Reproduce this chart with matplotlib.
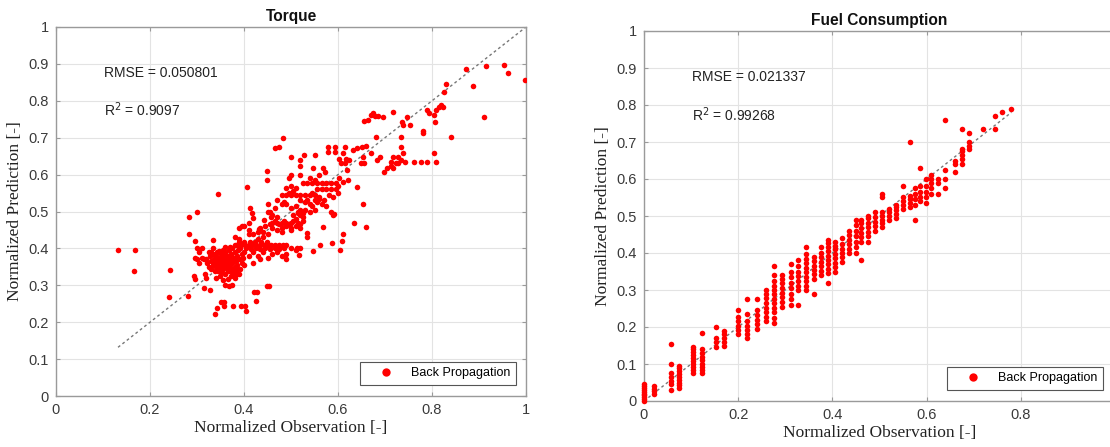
import matplotlib
matplotlib.use("Agg")
import matplotlib.pyplot as plt
from matplotlib.ticker import FuncFormatter

# ---------------- data ----------------
torque_points = [
    # outliers low-left
    (0.132, 0.396), (0.168, 0.396), (0.166, 0.338), (0.242, 0.342), (0.240, 0.268),
    (0.280, 0.270), (0.282, 0.440), (0.282, 0.484), (0.301, 0.500), (0.345, 0.547),
    (0.296, 0.419), (0.293, 0.326), (0.296, 0.317), (0.314, 0.293), (0.328, 0.286),
    (0.333, 0.423), (0.339, 0.221), (0.343, 0.239), (0.352, 0.255), (0.357, 0.255),
    (0.357, 0.243), (0.377, 0.243), (0.393, 0.243), (0.402, 0.243), (0.404, 0.230),
    (0.421, 0.281), (0.428, 0.281), (0.425, 0.257), (0.448, 0.299), (0.454, 0.299),
    (0.406, 0.566),
    # dense cluster
    (0.320, 0.370), (0.322, 0.360), (0.325, 0.350), (0.328, 0.380), (0.330, 0.345),
    (0.330, 0.365), (0.333, 0.385), (0.335, 0.355), (0.337, 0.370), (0.338, 0.340),
    (0.340, 0.360), (0.340, 0.380), (0.342, 0.350), (0.343, 0.390), (0.345, 0.365),
    (0.345, 0.375), (0.347, 0.345), (0.348, 0.355), (0.350, 0.335), (0.350, 0.370),
    (0.350, 0.385), (0.352, 0.360), (0.353, 0.380), (0.355, 0.345), (0.355, 0.395),
    (0.357, 0.365), (0.358, 0.355), (0.360, 0.330), (0.360, 0.375), (0.360, 0.390),
    (0.362, 0.350), (0.363, 0.365), (0.365, 0.340), (0.365, 0.380), (0.367, 0.360),
    (0.368, 0.395), (0.370, 0.350), (0.370, 0.370), (0.372, 0.385), (0.373, 0.340),
    (0.375, 0.360), (0.375, 0.400), (0.377, 0.330), (0.378, 0.375), (0.380, 0.350),
    (0.380, 0.390), (0.382, 0.365), (0.383, 0.340), (0.385, 0.380), (0.386, 0.355),
    (0.388, 0.395), (0.390, 0.370), (0.390, 0.330), (0.392, 0.345), (0.395, 0.385),
    (0.396, 0.360), (0.398, 0.375), (0.400, 0.390), (0.340, 0.320), (0.348, 0.325),
    (0.355, 0.315), (0.365, 0.318), (0.372, 0.325), (0.380, 0.320), (0.385, 0.330),
    (0.360, 0.300), (0.368, 0.298), (0.375, 0.302), (0.330, 0.390), (0.335, 0.400),
    (0.325, 0.390), (0.370, 0.405), (0.360, 0.405), (0.380, 0.410), (0.315, 0.370),
    (0.310, 0.375), (0.300, 0.400), (0.305, 0.390), (0.310, 0.400), (0.295, 0.375),
    (0.300, 0.372), (0.318, 0.330), (0.320, 0.320), (0.305, 0.360), (0.342, 0.372),
    (0.352, 0.342), (0.362, 0.382), (0.372, 0.362), (0.346, 0.392), (0.334, 0.362),
    (0.356, 0.372), (0.366, 0.352), (0.376, 0.345), (0.386, 0.372), (0.392, 0.402),
    (0.338, 0.352), (0.344, 0.338), (0.349, 0.362), (0.354, 0.352), (0.359, 0.362),
    (0.364, 0.372), (0.369, 0.342), (0.374, 0.378), (0.379, 0.368), (0.384, 0.348),
    # band near 0.41
    (0.386, 0.410), (0.394, 0.410), (0.402, 0.410), (0.410, 0.410), (0.418, 0.410),
    (0.426, 0.410), (0.434, 0.410), (0.442, 0.410), (0.450, 0.410), (0.458, 0.410),
    (0.466, 0.410), (0.474, 0.410), (0.482, 0.410), (0.490, 0.410), (0.390, 0.416),
    (0.400, 0.418), (0.412, 0.416), (0.424, 0.418), (0.436, 0.416), (0.448, 0.418),
    (0.405, 0.400), (0.415, 0.398), (0.425, 0.400), (0.435, 0.398), (0.445, 0.400),
    (0.455, 0.398), (0.465, 0.400), (0.475, 0.398), (0.485, 0.402),
    (0.380, 0.430), (0.390, 0.425), (0.400, 0.460), (0.410, 0.450), (0.420, 0.440),
    (0.430, 0.445), (0.435, 0.455), (0.440, 0.445), (0.450, 0.440), (0.410, 0.470),
    (0.390, 0.455), (0.395, 0.462), (0.410, 0.440), (0.440, 0.430), (0.430, 0.425),
    (0.410, 0.380), (0.420, 0.390), (0.430, 0.380), (0.440, 0.390), (0.450, 0.375),
    (0.460, 0.385), (0.470, 0.390), (0.480, 0.380), (0.490, 0.370), (0.420, 0.360),
    (0.400, 0.355), (0.435, 0.370), (0.475, 0.400), (0.490, 0.385), (0.500, 0.400),
    (0.520, 0.400), (0.510, 0.395), (0.412, 0.509), (0.418, 0.495), (0.419, 0.482),
    (0.431, 0.452), (0.442, 0.477), (0.457, 0.485),
    # band near 0.47
    (0.445, 0.460), (0.455, 0.465), (0.460, 0.470), (0.465, 0.475), (0.470, 0.470),
    (0.475, 0.465), (0.480, 0.470), (0.485, 0.475), (0.490, 0.470), (0.495, 0.465),
    (0.500, 0.470), (0.505, 0.475), (0.510, 0.480), (0.515, 0.470), (0.520, 0.465),
    (0.525, 0.475), (0.460, 0.455), (0.470, 0.450), (0.480, 0.455), (0.490, 0.460),
    (0.500, 0.455), (0.510, 0.460), (0.520, 0.455), (0.505, 0.490), (0.515, 0.495),
    (0.520, 0.490), (0.525, 0.485), (0.515, 0.500), (0.520, 0.505), (0.500, 0.450),
    (0.480, 0.445), (0.450, 0.500), (0.460, 0.490), (0.470, 0.485),
    # band near 0.545
    (0.480, 0.545), (0.490, 0.545), (0.495, 0.550), (0.500, 0.545), (0.510, 0.545),
    (0.520, 0.545), (0.530, 0.545), (0.540, 0.545), (0.545, 0.550), (0.550, 0.545),
    (0.520, 0.530), (0.530, 0.525), (0.540, 0.520), (0.550, 0.530), (0.555, 0.525),
    (0.560, 0.535), (0.535, 0.530), (0.490, 0.520), (0.485, 0.525), (0.500, 0.510),
    (0.510, 0.515), (0.530, 0.505), (0.540, 0.500), (0.525, 0.495), (0.550, 0.505),
    (0.545, 0.515), (0.455, 0.500), (0.465, 0.510), (0.470, 0.530), (0.480, 0.520),
    (0.450, 0.520),
    # band near 0.575 / 0.56
    (0.525, 0.577), (0.535, 0.577), (0.545, 0.577), (0.555, 0.577), (0.565, 0.577),
    (0.575, 0.577), (0.585, 0.577), (0.595, 0.577), (0.555, 0.560), (0.565, 0.560),
    (0.575, 0.560), (0.585, 0.560), (0.595, 0.560), (0.490, 0.565), (0.500, 0.570),
    (0.510, 0.565), (0.505, 0.555), (0.495, 0.590), (0.500, 0.600), (0.520, 0.600),
    (0.540, 0.590), (0.550, 0.585), (0.560, 0.600), (0.560, 0.540), (0.570, 0.530),
    (0.580, 0.545), (0.590, 0.540), (0.565, 0.520), (0.575, 0.515), (0.585, 0.500),
    (0.590, 0.490), (0.600, 0.550), (0.610, 0.580), (0.600, 0.570),
    # upper-middle scatter
    (0.465, 0.671), (0.474, 0.676), (0.482, 0.698), (0.448, 0.611), (0.448, 0.586),
    (0.500, 0.649), (0.520, 0.640), (0.520, 0.623), (0.527, 0.653), (0.551, 0.653),
    (0.547, 0.617), (0.568, 0.617), (0.572, 0.608), (0.578, 0.676), (0.578, 0.660),
    (0.593, 0.676), (0.594, 0.660), (0.614, 0.676), (0.602, 0.641), (0.606, 0.631),
    (0.611, 0.658), (0.617, 0.641), (0.614, 0.631), (0.620, 0.613), (0.623, 0.639),
    (0.631, 0.667), (0.640, 0.671), (0.650, 0.676), (0.654, 0.649), (0.648, 0.631),
    (0.655, 0.631), (0.659, 0.678), (0.671, 0.658), (0.602, 0.590), (0.621, 0.586),
    (0.640, 0.566), (0.654, 0.521), (0.659, 0.459), (0.633, 0.470), (0.610, 0.440),
    (0.608, 0.419), (0.605, 0.396), (0.587, 0.414), (0.561, 0.410), (0.547, 0.392),
    (0.568, 0.457), (0.591, 0.492), (0.518, 0.383), (0.513, 0.401), (0.533, 0.441),
    (0.535, 0.431),
    # upper-right scatter
    (0.655, 0.746), (0.663, 0.748), (0.671, 0.761), (0.675, 0.766), (0.678, 0.759),
    (0.686, 0.759), (0.695, 0.755), (0.716, 0.770), (0.681, 0.701), (0.682, 0.640),
    (0.689, 0.649), (0.697, 0.608), (0.705, 0.617), (0.713, 0.635), (0.713, 0.622),
    (0.716, 0.617), (0.716, 0.649), (0.723, 0.631), (0.728, 0.631), (0.728, 0.649),
    (0.733, 0.676), (0.735, 0.703), (0.735, 0.640), (0.739, 0.658), (0.736, 0.743),
    (0.739, 0.734), (0.747, 0.755), (0.753, 0.734), (0.743, 0.633), (0.762, 0.633),
    (0.777, 0.633), (0.789, 0.635), (0.804, 0.659), (0.808, 0.633), (0.780, 0.714),
    (0.780, 0.717), (0.789, 0.775), (0.793, 0.766), (0.804, 0.761), (0.806, 0.743),
    (0.808, 0.775), (0.814, 0.784), (0.819, 0.788), (0.823, 0.784), (0.825, 0.824),
    (0.829, 0.845), (0.840, 0.703), (0.872, 0.887), (0.888, 0.840), (0.911, 0.757),
    (0.915, 0.895), (0.954, 0.896), (0.962, 0.874), (0.998, 0.856),
]

fuel_obs_levels = [0.000, 0.022, 0.057, 0.075, 0.105, 0.123, 0.152, 0.170, 0.200,
                   0.218, 0.240, 0.260, 0.277, 0.293, 0.313, 0.328, 0.345, 0.360,
                   0.375, 0.390, 0.405, 0.420, 0.435, 0.450, 0.460, 0.475, 0.490,
                   0.505, 0.520, 0.535, 0.550, 0.565, 0.575, 0.585, 0.598, 0.610,
                   0.625, 0.640, 0.660, 0.675, 0.690, 0.720, 0.745, 0.760, 0.780]
fuel_pred_columns = [
    [0.000, 0.005, 0.010, 0.015, 0.020, 0.025, 0.030, 0.035, 0.040, 0.045],
    [0.020, 0.027, 0.033, 0.040],
    [0.030, 0.045, 0.055, 0.065, 0.075, 0.100, 0.155],
    [0.035, 0.042, 0.050, 0.058, 0.066, 0.074, 0.082, 0.090, 0.095],
    [0.075, 0.085, 0.093, 0.100, 0.108, 0.116, 0.124, 0.132, 0.140, 0.145],
    [0.075, 0.083, 0.092, 0.100, 0.110, 0.120, 0.130, 0.140, 0.185],
    [0.145, 0.160, 0.170, 0.200],
    [0.150, 0.160, 0.170, 0.180, 0.190],
    [0.180, 0.192, 0.204, 0.216, 0.228, 0.245],
    [0.170, 0.180, 0.192, 0.204, 0.216, 0.235, 0.275],
    [0.195, 0.208, 0.220, 0.232, 0.245, 0.275],
    [0.215, 0.228, 0.240, 0.252, 0.265, 0.278, 0.290, 0.300],
    [0.210, 0.225, 0.240, 0.252, 0.264, 0.276, 0.288, 0.300, 0.312, 0.325, 0.340, 0.365],
    [0.255, 0.268, 0.280, 0.292, 0.305, 0.318, 0.330, 0.340],
    [0.260, 0.275, 0.290, 0.305, 0.320, 0.335, 0.350, 0.370],
    [0.260, 0.300, 0.312, 0.325, 0.338, 0.350, 0.365, 0.380],
    [0.300, 0.312, 0.324, 0.336, 0.348, 0.360, 0.372, 0.384, 0.396, 0.415],
    [0.290, 0.330, 0.342, 0.354, 0.366, 0.378, 0.390],
    [0.340, 0.352, 0.364, 0.376, 0.388, 0.400, 0.415],
    [0.320, 0.345, 0.357, 0.369, 0.381, 0.393, 0.405, 0.417, 0.428, 0.435],
    [0.350, 0.362, 0.374, 0.386, 0.398, 0.410, 0.420, 0.430],
    [0.375, 0.388, 0.400, 0.412, 0.425, 0.440],
    [0.400, 0.412, 0.424, 0.436, 0.448, 0.460],
    [0.400, 0.415, 0.430, 0.445, 0.460, 0.475, 0.490],
    [0.380, 0.430, 0.442, 0.455, 0.468, 0.480, 0.490],
    [0.430, 0.445, 0.458, 0.470, 0.482, 0.495, 0.500],
    [0.460, 0.472, 0.484, 0.496, 0.510],
    [0.470, 0.480, 0.490, 0.500, 0.510, 0.550, 0.560],
    [0.490, 0.500, 0.510, 0.520],
    [0.495, 0.505, 0.515, 0.525, 0.530],
    [0.520, 0.530, 0.540, 0.550, 0.580],
    [0.525, 0.535, 0.545, 0.555, 0.700],
    [0.490, 0.530, 0.545, 0.560, 0.575],
    [0.540, 0.552, 0.565, 0.580, 0.630],
    [0.535, 0.550, 0.565, 0.580, 0.600],
    [0.560, 0.575, 0.590, 0.600, 0.610],
    [0.560, 0.590, 0.600],
    [0.575, 0.600, 0.625, 0.760],
    [0.620, 0.640, 0.650],
    [0.640, 0.655, 0.665, 0.675, 0.680, 0.735],
    [0.680, 0.690, 0.700, 0.725],
    [0.735],
    [0.735, 0.770],
    [0.780],
    [0.790],
]

torque_rmse_text = "RMSE = 0.050801"
torque_r2_text = "R$^2$ = 0.9097"
fuel_rmse_text = "RMSE = 0.021337"
fuel_r2_text = "R$^2$ = 0.99268"
torque_diag = [0.132, 1.0]
fuel_diag = [0.0, 0.78]

torque_x_ticks = [0, 0.2, 0.4, 0.6, 0.8, 1.0]
fuel_x_ticks = [0, 0.2, 0.4, 0.6, 0.8]
y_ticks = [0, 0.1, 0.2, 0.3, 0.4, 0.5, 0.6, 0.7, 0.8, 0.9, 1.0]

# ---------------- drawing ----------------
SANS = ['Liberation Sans', 'DejaVu Sans']
SERIF = ['Liberation Serif', 'DejaVu Serif']
RED = '#ff0000'
SPINE = '#9a9a9a'

fig = plt.figure(figsize=(11.10, 4.47), dpi=100)
ax1 = fig.add_axes([56 / 1110, (447 - 396) / 447, 470 / 1110, 369 / 447])
ax2 = fig.add_axes([644 / 1110, (447 - 401) / 447, 471 / 1110, 370 / 447])

fuel_obs = []
fuel_pred = []
for xv, col in zip(fuel_obs_levels, fuel_pred_columns):
    for yv in col:
        fuel_obs.append(xv)
        fuel_pred.append(yv)
torque_obs = [p[0] for p in torque_points]
torque_pred = [p[1] for p in torque_points]


def style(ax, title, rmse, r2, legend_anchor, xticks):
    ax.set_xlim(0, 1)
    ax.set_ylim(0, 1)
    ax.set_xticks(xticks)
    ax.set_yticks(y_ticks)
    fmt = FuncFormatter(lambda v, p: f"{v:g}")
    ax.xaxis.set_major_formatter(fmt)
    ax.yaxis.set_major_formatter(fmt)
    ax.grid(True, color='#e3e3e3', linewidth=0.8, zorder=0)
    ax.set_axisbelow(True)
    for s in ax.spines.values():
        s.set_color(SPINE)
        s.set_linewidth(1.0)
    ax.tick_params(direction='in', length=3, width=0.8, color=SPINE,
                   labelcolor='#3a3a3a', labelsize=10.5, pad=5,
                   top=True, right=True)
    for lab in ax.get_xticklabels() + ax.get_yticklabels():
        lab.set_family(SANS)
    ax.set_title(title, fontsize=11.2, fontweight='bold', family=SANS, pad=4, color='#111111')
    ax.set_xlabel("Normalized Observation [-]", family=SERIF, fontsize=12.5,
                  color='#222222', labelpad=2)
    ax.set_ylabel("Normalized Prediction [-]", family=SERIF, fontsize=12.5,
                  color='#222222', labelpad=4)
    ax.text(0.102, 0.875, rmse, family=SANS, fontsize=10, va='center', ha='left', color='#222222')
    ax.text(0.102, 0.775, r2, family=SANS, fontsize=10, va='center', ha='left', color='#222222')
    leg = ax.legend(loc='lower right', bbox_to_anchor=legend_anchor, borderaxespad=0,
                    fancybox=False, edgecolor='#555555', framealpha=1,
                    prop={'family': SANS, 'size': 9}, handlelength=3.2,
                    handletextpad=0.45, borderpad=0.45, markerscale=1.5)
    leg.get_frame().set_linewidth(0.8)


ax1.plot(torque_diag, torque_diag, linestyle=(0, (2, 2)), color='#777777', linewidth=1.0, zorder=2)
ax1.plot(torque_obs, torque_pred, 'o', color=RED, markersize=4.0, markeredgewidth=0,
         label='Back Propagation', zorder=3)
style(ax1, "Torque", torque_rmse_text, torque_r2_text, (0.979, 0.030), torque_x_ticks)

ax2.plot(fuel_diag, fuel_diag, linestyle=(0, (2, 2)), color='#777777', linewidth=1.0, zorder=2)
ax2.plot(fuel_obs, fuel_pred, 'o', color=RED, markersize=4.0, markeredgewidth=0,
         label='Back Propagation', zorder=3, clip_on=False)
style(ax2, "Fuel Consumption", fuel_rmse_text, fuel_r2_text, (0.975, 0.030), fuel_x_ticks)

fig.savefig("out.png", dpi=100)
